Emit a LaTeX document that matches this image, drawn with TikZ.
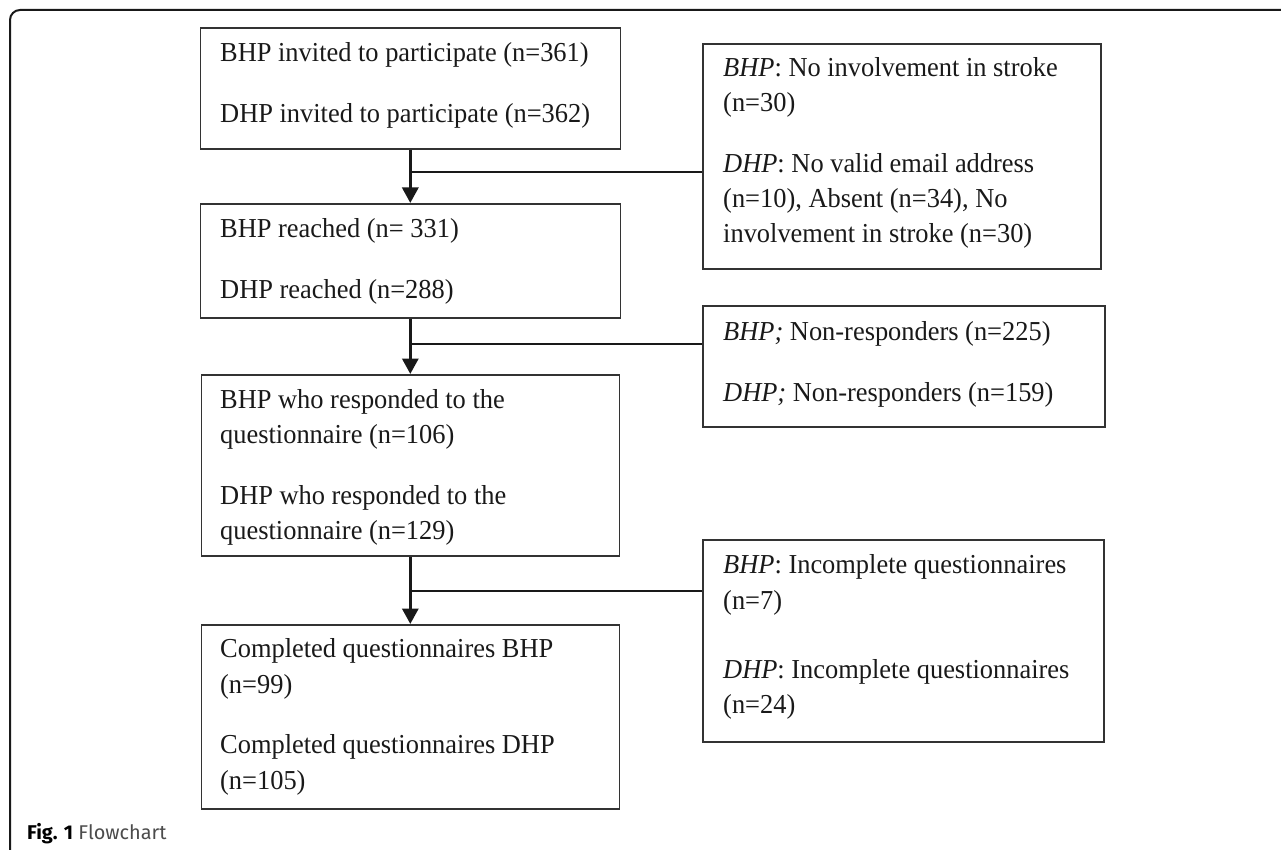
\documentclass[tikz,border=0pt]{standalone}
\usepackage{fontspec}
\setmainfont[FakeStretch=0.964]{Liberation Serif}
\newfontfamily\capfont{Fira Sans}
\usetikzlibrary{arrows.meta}
\begin{document}
\begin{tikzpicture}[x=1pt,y=-1pt,
  flowbox/.style={draw=black!80, line width=1.6pt, anchor=north west, inner sep=0pt},
  txt/.style={anchor=base west, inner sep=0pt, text=black!90, font=\fontsize{27.4}{35}\selectfont},
  link/.style={draw=black!90, line width=2pt},
  arr/.style={draw=black!90, line width=3.2pt, -{Triangle[width=16pt,length=15.5pt]}}]
\useasboundingbox (0,0) rectangle (1281,850);
% outer frame
\draw[line width=2pt, draw=black!90, rounded corners=10pt] (10,852) -- (10,10) -- (1283,10);
% left boxes
\node[flowbox, minimum width=420pt, minimum height=121pt] (b1) at (199.5,27) {};
\node[flowbox, minimum width=420pt, minimum height=114pt] (b2) at (199.5,203) {};
\node[flowbox, minimum width=418pt, minimum height=181pt] (b3) at (200.5,374) {};
\node[flowbox, minimum width=418pt, minimum height=184pt] (b4) at (200.5,624) {};
% right boxes
\node[flowbox, minimum width=398pt, minimum height=225pt] (r1) at (702,43) {};
\node[flowbox, minimum width=402pt, minimum height=121pt] (r2) at (702,305) {};
\node[flowbox, minimum width=401pt, minimum height=202pt] (r3) at (702,539) {};
% texts left
\node[txt] (t1a) at (220,62) {BHP invited to participate (n=361)};
\node[txt] (t1b) at (220,123) {DHP invited to participate (n=362)};
\node[txt] (t2a) at (220,237) {BHP reached (n= 331)};
\node[txt] (t2b) at (220,298) {DHP reached (n=288)};
\node[txt] (t3a) at (220,408) {BHP who responded to the};
\node[txt] (t3b) at (220,443) {questionnaire (n=106)};
\node[txt] (t3c) at (220,504) {DHP who responded to the};
\node[txt] (t3d) at (220,539) {questionnaire (n=129)};
\node[txt] (t4a) at (220,657) {Completed questionnaires BHP};
\node[txt] (t4b) at (220,693) {(n=99)};
\node[txt] (t4c) at (220,753) {Completed questionnaires DHP};
\node[txt] (t4d) at (220,789) {(n=105)};
% texts right
\node[txt] (s1a) at (723,77) {\textit{BHP}: No involvement in stroke};
\node[txt] (s1b) at (723,112) {(n=30)};
\node[txt] (s1c) at (723,173) {\textit{DHP}: No valid email address};
\node[txt] (s1d) at (723,208) {(n=10), Absent (n=34), No};
\node[txt] (s1e) at (723,243) {involvement in stroke (n=30)};
\node[txt] (s2a) at (723,340) {\textit{BHP;} Non-responders (n=225)};
\node[txt] (s2b) at (723,401) {\textit{DHP;} Non-responders (n=159)};
\node[txt] (s3a) at (723,573) {\textit{BHP}: Incomplete questionnaires};
\node[txt] (s3b) at (723,609) {(n=7)};
\node[txt] (s3c) at (723,678) {\textit{DHP}: Incomplete questionnaires};
\node[txt] (s3d) at (723,713) {(n=24)};
% connectors
\draw[arr] (b1.south) -- (b2.north -| b1.south);
\draw[arr] (b2.south) -- (b3.north -| b2.south);
\draw[arr] (b3.south) -- (b4.north);
\coordinate (j1) at (409.5,172);
\coordinate (j2) at (409.5,344);
\coordinate (j3) at (409.5,591);
\draw[link] (j1) -- (j1 -| r1.west);
\draw[link] (j2) -- (j2 -| r2.west);
\draw[link] (j3) -- (j3 -| r3.west);
% caption
\node[anchor=base west, inner sep=0pt, font=\capfont\fontsize{19.9}{23}\selectfont] (cap) at (27,839) {\textbf{Fig. 1} {\color{black!70}Flowchart}};
\end{tikzpicture}
\end{document}
